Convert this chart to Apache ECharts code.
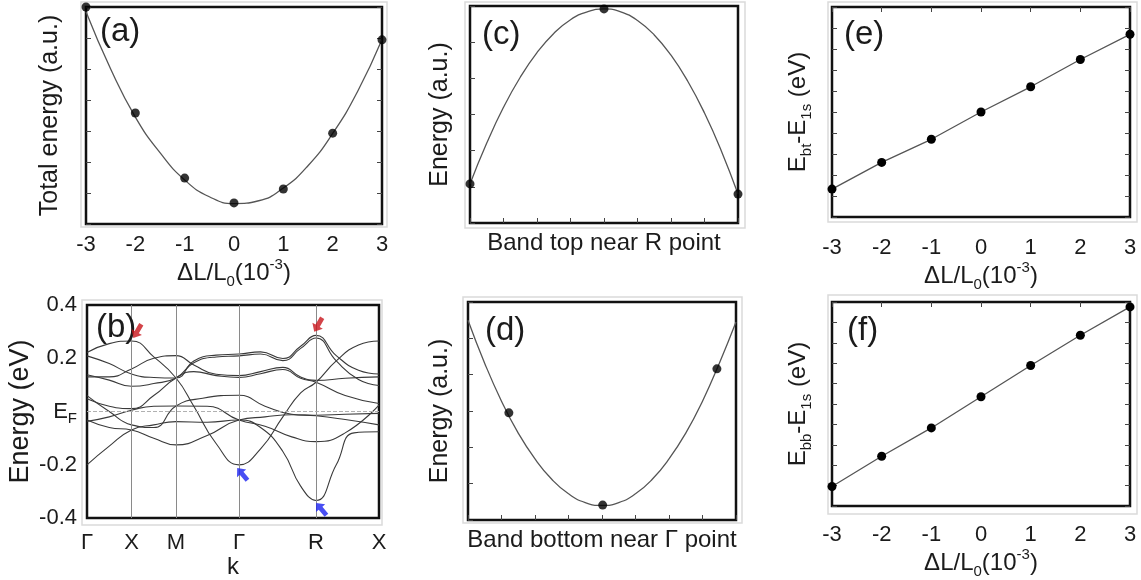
<!DOCTYPE html>
<html><head><meta charset="utf-8">
<script src="https://cdn.jsdelivr.net/npm/echarts@6/dist/echarts.min.js"></script>
<style>html,body{margin:0;padding:0;background:#fff}#c{width:1141px;height:580px}</style>
</head><body><div id="c"></div>
<script>
// ---------- data ----------
// (a) total energy vs strain
const strainX = [-3, -2, -1, 0, 1, 2, 3];
const totalEnergy = [7.0, 3.58, 1.48, 0.68, 1.13, 2.93, 5.94];
const fitStrainX = [-3, -2.5, -2, -1.5, -1, -0.5, 0, 0.5, 1, 1.5, 2, 2.5, 3];
const totalEnergyFit = [6.85, 5.0, 3.45, 2.3, 1.42, 0.88, 0.66, 0.75, 1.16, 1.88, 2.92, 4.26, 5.95];

// (b) band structure
const kPos = [0, 0.5, 1.0, 1.7071, 2.5731, 3.2802];
const kLabels = ['Γ', 'X', 'M', 'Γ', 'R', 'X'];
const bandA = [[0,0.222],[0.25,0.255],[0.5,0.265],[0.75,0.205],[1.0,0.126],[1.2,0.02],[1.45,-0.12],[1.7071,-0.2],[1.95,-0.14],[2.2,-0.02],[2.4,0.07],[2.5731,0.11],[2.8,0.19],[3.05,0.25],[3.2802,0.265]];
const bandB = [[0,0.209],[0.25,0.18],[0.5,0.141],[0.75,0.128],[1.0,0.126],[1.2,0.19],[1.45,0.212],[1.7071,0.216],[1.95,0.224],[2.2,0.199],[2.4,0.245],[2.5731,0.286],[2.8,0.21],[3.05,0.155],[3.2802,0.141]];
const bandC = [[0,0.138],[0.25,0.118],[0.5,0.095],[0.75,0.105],[1.0,0.126],[1.2,0.183],[1.45,0.205],[1.7071,0.209],[1.95,0.216],[2.2,0.191],[2.4,0.237],[2.5731,0.276],[2.8,0.19],[3.05,0.12],[3.2802,0.098]];
const bandD = [[0,0.130],[0.25,0.13],[0.5,0.16],[0.75,0.2],[1.0,0.21],[1.2,0.175],[1.45,0.14],[1.7071,0.135],[1.95,0.15],[2.2,0.166],[2.4,0.13],[2.5731,0.117],[2.9,0.125],[3.2802,0.13]];
const bandE = [[0,0.048],[0.25,0.02],[0.5,0.011],[0.75,0.06],[1.0,0.126],[1.2,0.15],[1.45,0.135],[1.7071,0.128],[1.95,0.142],[2.2,0.158],[2.4,0.125],[2.5731,0.11],[2.9,0.06],[3.2802,0.03]];
const bandF = [[0,0.06],[0.25,0.0],[0.5,-0.05],[0.75,-0.06],[1.0,0.021],[1.3,0.05],[1.7071,0.061],[2.0,0.02],[2.3,-0.01],[2.5731,-0.016],[2.9,-0.03],[3.2802,-0.05]];
const bandG = [[0,-0.037],[0.25,-0.02],[0.5,0.005],[0.75,0.02],[1.0,0.021],[1.35,0.02],[1.7071,-0.032],[2.0,-0.055],[2.3,-0.095],[2.5731,-0.113],[2.9,-0.08],[3.2802,0.024]];
const bandH = [[0,-0.2],[0.25,-0.13],[0.5,-0.069],[0.75,-0.05],[1.0,-0.038],[1.35,-0.04],[1.7071,-0.032],[1.95,-0.06],[2.2,-0.15],[2.4,-0.28],[2.5731,-0.334],[2.8,-0.2],[3.0,-0.08],[3.2802,-0.076]];
const bandI = [[0,-0.032],[0.25,-0.06],[0.5,-0.069],[0.75,-0.1],[1.0,-0.125],[1.35,-0.09],[1.7071,-0.032],[2.0,-0.02],[2.3,-0.012],[2.5731,-0.014],[2.9,-0.01],[3.2802,-0.007]];
const bands = [bandA, bandB, bandC, bandD, bandE, bandF, bandG, bandH, bandI];
// arrows marking band extrema: [k, E]
const topArrows = [[0.565, 0.302], [2.597, 0.326]];
const bottomArrows = [[1.745, -0.235], [2.632, -0.366]];

// (c) band top near R
const topPtsX = [0, 4, 8];
const topPtsY = [1.08, 5.92, 0.8];
const topFitX = [0, 0.5, 1, 1.5, 2, 2.5, 3, 3.5, 4, 4.5, 5, 5.5, 6, 6.5, 7, 7.5, 8];
const topFitY = [1.08, 2.21, 3.2, 4.03, 4.71, 5.24, 5.62, 5.84, 5.92, 5.84, 5.6, 5.2, 4.64, 3.92, 3.04, 2.0, 0.8];

// (d) band bottom near Gamma
const botPtsX = [1.22, 4.02, 7.43];
const botPtsY = [2.95, 0.41, 4.16];
const botFitX = [0, 0.5, 1, 1.5, 2, 2.5, 3, 3.5, 4, 4.5, 5, 5.5, 6, 6.5, 7, 7.5, 8];
const botFitY = [5.5, 4.31, 3.27, 2.39, 1.68, 1.12, 0.72, 0.48, 0.4, 0.48, 0.72, 1.12, 1.68, 2.39, 3.27, 4.31, 5.45];

// (e), (f)
const ebt = [1.33, 2.6, 3.7, 5.0, 6.2, 7.5, 8.7];
const ebb = [0.96, 2.44, 3.83, 5.36, 6.89, 8.37, 9.76];

// ---------- styles ----------
const FONT = '"Liberation Sans", Arial, Helvetica, sans-serif';
const TXT = '#1b1b1b';
const TICKFS = 22;
const NAMEFS = 24;
const rich = {
  n: {fontSize: NAMEFS, lineHeight: 32, fontFamily: FONT, color: TXT},
  sub: {fontSize: 15, lineHeight: 20, verticalAlign: 'bottom', fontFamily: FONT, color: TXT},
  sup: {fontSize: 15, lineHeight: 20, verticalAlign: 'top', fontFamily: FONT, color: TXT}
};
const strainName = '{n|ΔL/L}{sub|0}{n|(10}{sup|-3}{n|)}';
const plainName = (fs) => ({fontSize: fs, color: TXT, fontFamily: FONT, lineHeight: 28});

const grids = [
  {left: 86, top: 7, width: 296, height: 217},
  {left: 87, top: 305, width: 292, height: 215},
  {left: 470, top: 6, width: 268, height: 217},
  {left: 468, top: 302, width: 268, height: 218},
  {left: 832, top: 7, width: 298, height: 210},
  {left: 832, top: 302, width: 298, height: 209}
].map(g => Object.assign({show: true, borderColor: '#111', borderWidth: 2.5, backgroundColor: 'transparent'}, g));

const tick = (show) => ({show, inside: true, length: 5, lineStyle: {color: '#444', width: 1}});
const lab = (show, margin) => ({show, margin, fontSize: TICKFS, color: TXT, fontFamily: FONT});
const noLine = {show: false, onZero: false};
const noSplit = {show: false};

const xAxis = [
  {type: 'value', gridIndex: 0, min: -3, max: 3, interval: 1, axisLine: noLine, axisTick: tick(false), axisLabel: lab(true, 10), splitLine: noSplit,
   name: strainName, nameLocation: 'middle', nameGap: 33, nameTextStyle: {rich}},
  {type: 'value', gridIndex: 1, min: 0, max: 3.2802, axisLine: noLine, axisTick: {show: false}, splitLine: noSplit,
   axisLabel: Object.assign(lab(true, 14), {customValues: kPos, showMinLabel: true, showMaxLabel: true,
     formatter: v => { const i = kPos.findIndex(p => Math.abs(p - v) < 1e-6); return i >= 0 ? kLabels[i] : ''; }}),
   name: 'k', nameLocation: 'middle', nameGap: 35, nameTextStyle: {fontSize: NAMEFS, color: TXT, fontFamily: FONT, lineHeight: 24}},
  {type: 'value', gridIndex: 2, min: 0, max: 8, interval: 1, axisLine: noLine, axisTick: tick(true), axisLabel: lab(false), splitLine: noSplit,
   name: 'Band top near R point', nameLocation: 'middle', nameGap: 8, nameTextStyle: {fontSize: NAMEFS, color: TXT, fontFamily: FONT, lineHeight: 24}},
  {type: 'value', gridIndex: 3, min: 0, max: 8, interval: 1, axisLine: noLine, axisTick: tick(true), axisLabel: lab(false), splitLine: noSplit,
   name: 'Band bottom near Γ point', nameLocation: 'middle', nameGap: 8, nameTextStyle: {fontSize: NAMEFS, color: TXT, fontFamily: FONT, lineHeight: 24}},
  {type: 'value', gridIndex: 4, min: -3, max: 3, interval: 1, axisLine: noLine, axisTick: tick(false), axisLabel: lab(true, 20), splitLine: noSplit,
   name: strainName, nameLocation: 'middle', nameGap: 34, nameTextStyle: {rich}},
  {type: 'value', gridIndex: 5, min: -3, max: 3, interval: 1, axisLine: noLine, axisTick: tick(false), axisLabel: lab(true, 18), splitLine: noSplit,
   name: strainName, nameLocation: 'middle', nameGap: 32, nameTextStyle: {rich}},
  // top tick axes for e, f
  {type: 'value', gridIndex: 4, position: 'top', min: -3, max: 3, interval: 1, axisLine: noLine, axisTick: tick(true), axisLabel: lab(false), splitLine: noSplit},
  {type: 'value', gridIndex: 5, position: 'top', min: -3, max: 3, interval: 1, axisLine: noLine, axisTick: tick(true), axisLabel: lab(false), splitLine: noSplit}
];

const yAxis = [
  {type: 'value', gridIndex: 0, min: 0, max: 7, interval: 1, axisLine: noLine, axisTick: tick(true), axisLabel: lab(false), splitLine: noSplit,
   name: 'Total energy (a.u.)', nameLocation: 'middle', nameRotate: 90, nameGap: 22, nameTextStyle: plainName(25)},
  {type: 'value', gridIndex: 1, min: -0.4, max: 0.4, interval: 0.2, axisLine: noLine, axisTick: {show: false}, splitLine: noSplit,
   axisLabel: Object.assign(lab(true, 10), {
     formatter: v => Math.abs(v) < 1e-9 ? '{m|E}{s|F}' : v.toFixed(1),
     rich: {m: {fontSize: TICKFS, lineHeight: 30, fontFamily: FONT, color: TXT},
            s: {fontSize: 15, lineHeight: 20, verticalAlign: 'bottom', fontFamily: FONT, color: TXT}}}),
   name: 'Energy (eV)', nameLocation: 'middle', nameRotate: 90, nameGap: 52, nameTextStyle: plainName(27)},
  {type: 'value', gridIndex: 2, min: 0, max: 6, interval: 1, axisLine: noLine, axisTick: tick(true), axisLabel: lab(false), splitLine: noSplit,
   name: 'Energy (a.u.)', nameLocation: 'middle', nameRotate: 90, nameGap: 16, nameTextStyle: plainName(25)},
  {type: 'value', gridIndex: 3, min: 0, max: 6, interval: 1, axisLine: noLine, axisTick: tick(true), axisLabel: lab(false), splitLine: noSplit,
   name: 'Energy (a.u.)', nameLocation: 'middle', nameRotate: 90, nameGap: 14, nameTextStyle: plainName(25)},
  {type: 'value', gridIndex: 4, min: 0, max: 10, interval: 1, axisLine: noLine, axisTick: tick(true), axisLabel: lab(false), splitLine: noSplit,
   name: '{n|E}{sub|bt}{n|-E}{sub|1s}{n| (eV)}', nameLocation: 'middle', nameRotate: 90, nameGap: 18, nameTextStyle: {rich}},
  {type: 'value', gridIndex: 5, min: 0, max: 10, interval: 1, axisLine: noLine, axisTick: tick(true), axisLabel: lab(false), splitLine: noSplit,
   name: '{n|E}{sub|bb}{n|-E}{sub|1s}{n| (eV)}', nameLocation: 'middle', nameRotate: 90, nameGap: 18, nameTextStyle: {rich}},
  // right-side tick axes
  {type: 'value', gridIndex: 0, position: 'right', min: 0, max: 7, interval: 1, axisLine: noLine, axisTick: tick(true), axisLabel: lab(false), splitLine: noSplit},
  {type: 'value', gridIndex: 4, position: 'right', min: 0, max: 10, interval: 1, axisLine: noLine, axisTick: tick(true), axisLabel: lab(false), splitLine: noSplit},
  {type: 'value', gridIndex: 5, position: 'right', min: 0, max: 10, interval: 1, axisLine: noLine, axisTick: tick(true), axisLabel: lab(false), splitLine: noSplit}
];

const zip = (xs, ys) => xs.map((x, i) => [x, ys[i]]);
const dot = (xi, yi, data) => ({type: 'scatter', xAxisIndex: xi, yAxisIndex: yi, data, symbolSize: 9, itemStyle: {color: '#000'}, clip: false, silent: true, z: 5});
const curve = (xi, yi, data) => ({type: 'line', xAxisIndex: xi, yAxisIndex: yi, data, smooth: true, symbol: 'none', lineStyle: {color: '#555', width: 1.3}, silent: true, z: 3});

const series = [];
series.push(curve(0, 0, zip(fitStrainX, totalEnergyFit)));
series.push(dot(0, 0, zip(strainX, totalEnergy)));

bands.forEach((b, i) => {
  const s = {type: 'line', xAxisIndex: 1, yAxisIndex: 1, data: b, smooth: 0.5, symbol: 'none', lineStyle: {color: '#3a3a3a', width: 1.1}, silent: true, z: 3};
  if (i === 0) {
    s.markLine = {silent: true, symbol: 'none', label: {show: false}, lineStyle: {color: '#8a8a8a', width: 1, type: 'solid'},
      data: kPos.slice(1, 5).map(v => ({xAxis: v})).concat([{yAxis: 0, lineStyle: {color: '#b0b0b0', type: 'dashed', width: 1}}])};
  }
  series.push(s);
});
const ARROW = 'path://M5,0 L10,6 L7,6 L7,14 L3,14 L3,6 L0,6 Z';
series.push({type: 'scatter', xAxisIndex: 1, yAxisIndex: 1, symbol: ARROW, symbolSize: [12, 16], clip: false, silent: true, z: 6,
  data: topArrows.map(p => ({value: p, symbolRotate: 150, itemStyle: {color: '#c8141a'}}))});
series.push({type: 'scatter', xAxisIndex: 1, yAxisIndex: 1, symbol: ARROW, symbolSize: [12, 16], clip: false, silent: true, z: 6,
  data: bottomArrows.map(p => ({value: p, symbolRotate: 40, itemStyle: {color: '#1a22f0'}}))});

series.push(curve(2, 2, zip(topFitX, topFitY)));
series.push(dot(2, 2, zip(topPtsX, topPtsY)));
series.push(curve(3, 3, zip(botFitX, botFitY)));
series.push(dot(3, 3, zip(botPtsX, botPtsY)));

series.push({type: 'line', xAxisIndex: 4, yAxisIndex: 4, data: zip(strainX, ebt), symbol: 'circle', symbolSize: 9, itemStyle: {color: '#000'}, lineStyle: {color: '#555', width: 1.3}, clip: false, silent: true});
series.push({type: 'line', xAxisIndex: 5, yAxisIndex: 5, data: zip(strainX, ebb), symbol: 'circle', symbolSize: 9, itemStyle: {color: '#000'}, lineStyle: {color: '#555', width: 1.3}, clip: false, silent: true});

const panelTag = (text, left, top) => ({text, left, top, textStyle: {fontSize: 33, fontWeight: 'normal', color: TXT, fontFamily: FONT}, padding: 0});
const title = [
  panelTag('(a)', 100, 15), panelTag('(b)', 96, 311), panelTag('(c)', 482, 18),
  panelTag('(d)', 485, 314), panelTag('(e)', 844, 18), panelTag('(f)', 847, 314)
];

const frame = (x, y, w, h) => ({type: 'rect', shape: {x, y, width: w, height: h}, style: {fill: 'none', stroke: '#dadada', lineWidth: 1.5}, silent: true, z: -1});
const graphic = [
  frame(81, 2, 306, 225), frame(82, 300, 300, 225), frame(465, 2, 280, 226),
  frame(463, 297, 279, 226), frame(828, 2, 309, 220), frame(828, 295, 309, 219)
];

const chart = echarts.init(document.getElementById('c'), null, {renderer: 'canvas'});
chart.setOption({animation: false, backgroundColor: '#fff', title, grid: grids, xAxis, yAxis, series, graphic});
</script></body></html>
